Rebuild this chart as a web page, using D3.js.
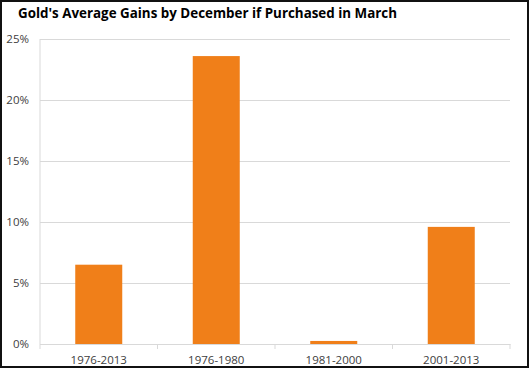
<!DOCTYPE html>
<html>
<head>
<meta charset="utf-8">
<script src="https://cdn.jsdelivr.net/npm/d3@7"></script>
<style>
  body { margin: 0; background: #fff; }
  svg { display: block; }
</style>
</head>
<body>
<div id="chart"></div>
<script>
// data
var periods = ["1976-2013", "1976-1980", "1981-2000", "2001-2013"];
var gains = [6.5, 23.6, 0.25, 9.6];
var yTicks = [0, 5, 10, 15, 20, 25];
var title = "Gold's Average Gains by December if Purchased in March";

var W = 530, H = 369;
var margin = {top: 39, left: 40},
    width = 510 - margin.left,
    height = 344 - margin.top;

var svg = d3.select("#chart")
  .append("svg")
    .attr("width", W)
    .attr("height", H);

// frame
svg.append("rect")
  .attr("x", 1).attr("y", 1)
  .attr("width", 527).attr("height", 366)
  .attr("fill", "#fff")
  .attr("stroke", "#111")
  .attr("stroke-width", 2);

svg.append("text")
  .attr("x", 18).attr("y", 18)
  .attr("font-family", "'Open Sans', sans-serif")
  .attr("font-weight", "bold")
  .attr("font-size", 15)
  .attr("textLength", 379)
  .attr("lengthAdjust", "spacingAndGlyphs")
  .attr("fill", "#000")
  .text(title);

var g = svg.append("g")
  .attr("transform", "translate(" + margin.left + "," + margin.top + ")");

var x = d3.scaleBand()
  .domain(periods)
  .range([0, width])
  .paddingInner(0.6)
  .paddingOuter(0.3);

var y = d3.scaleLinear()
  .domain([0, 25])
  .range([height, 0]);

// gridlines + y labels
var yAxis = g.append("g")
  .call(d3.axisLeft(y).tickValues(yTicks).tickSize(-width).tickPadding(11)
    .tickFormat(d => d + "%"));
yAxis.select(".domain").remove();
yAxis.selectAll(".tick line").attr("stroke", "#d9d9d9");
yAxis.selectAll(".tick text")
  .attr("font-family", "'Open Sans', sans-serif")
  .attr("font-size", 11.5)
  .attr("fill", "#404040");

// y axis line
g.append("line")
  .attr("x1", 0).attr("x2", 0)
  .attr("y1", 0).attr("y2", height + 5)
  .attr("stroke", "#d9d9d9");

// x axis, ticks at band edges
var xAxis = g.append("g")
  .attr("transform", "translate(0," + height + ")")
  .call(d3.axisBottom(x).tickSize(0).tickPadding(12));
xAxis.select(".domain").attr("stroke", "#d9d9d9");
xAxis.selectAll(".tick text")
  .attr("font-family", "'Open Sans', sans-serif")
  .attr("font-size", 11.5)
  .attr("fill", "#404040");

var step = x.step();
g.append("g")
  .selectAll("line")
  .data(periods)
  .join("line")
    .attr("x1", d => x(d) + x.bandwidth() + step * 0.3)
    .attr("x2", d => x(d) + x.bandwidth() + step * 0.3)
    .attr("y1", height)
    .attr("y2", height + 5)
    .attr("stroke", "#d9d9d9");

// bars
g.append("g")
  .selectAll("rect")
  .data(gains)
  .join("rect")
    .attr("x", (d, i) => x(periods[i]))
    .attr("y", d => y(d))
    .attr("width", x.bandwidth())
    .attr("height", d => height - y(d))
    .attr("fill", "#f07f19");
</script>
</body>
</html>
